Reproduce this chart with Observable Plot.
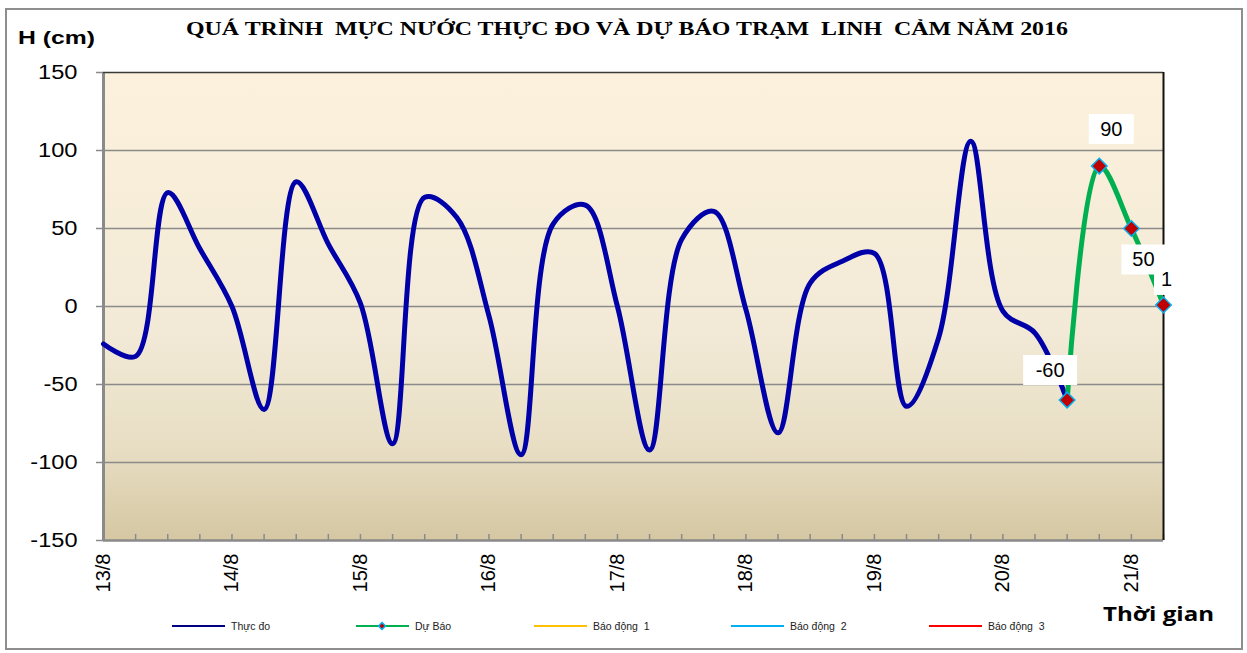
<!DOCTYPE html>
<html>
<head>
<meta charset="utf-8">
<script src="https://cdn.jsdelivr.net/npm/d3@7"></script>
<script src="https://cdn.jsdelivr.net/npm/@observablehq/plot@0.6"></script>
<style>
  html, body { margin: 0; padding: 0; background: #fff; }
  #wrap { position: relative; width: 1247px; height: 653px; overflow: hidden; font-family: "Liberation Sans", Arial, sans-serif; }
  #border { position: absolute; left: 5px; top: 8px; width: 1238px; height: 642px; box-sizing: border-box; border: 2px solid #8e8e8e; }
  #chart { position: absolute; left: 0; top: 0; }
  #overlay { position: absolute; left: 0; top: 0; pointer-events: none; }
  #overlay text { white-space: pre; }
</style>
</head>
<body>
<div id="wrap">
  <div id="border"></div>
  <div id="chart"></div>
  <svg id="overlay" width="1247" height="653" xmlns="http://www.w3.org/2000/svg"></svg>
</div>
<script>
// ---------------- DATA ----------------
const titleText = "QUÁ TRÌNH  MỰC NƯỚC THỰC ĐO VÀ DỰ BÁO TRẠM  LINH  CẢM NĂM 2016";
const yAxisTitle = "H (cm)";
const xAxisTitle = "Thời gian";
const startDate = "2016-08-13T00:00:00Z";
const stepHours = 6; // one reading every 6 hours
// Measured water level (cm), readings 0..30 (13/8 00h .. 20/8 12h)
const measured = [-24, -32, 73, 37, 0, -66, 80, 40, 2, -88, 70, 57, -6, -95, 53, 65, 0, -92, 43, 61, -2, -81, 15, 29, 34, -64, -20, 106, -3, -17, -60];
// Forecast (cm), readings 30..33
const forecastStartIndex = 30;
const forecast = [-60, 90, 50, 1];
const dayLabels = ["13/8", "14/8", "15/8", "16/8", "17/8", "18/8", "19/8", "20/8", "21/8"];
const yTicks = [-150, -100, -50, 0, 50, 100, 150];
const totalSteps = 33;
const legendItems = ["Thực đo", "Dự Báo", "Báo động  1", "Báo động  2", "Báo động  3"];
const legendColors = ["#000080", "#00B050", "#FFC000", "#00B0F0", "#FF0000"];

// ---------------- BUILD ----------------
const t0 = new Date(startDate);
const timeAt = i => new Date(t0.getTime() + i * stepHours * 3600 * 1000);
const tEnd = timeAt(totalSteps);
const measuredData = measured.map((v, i) => ({t: timeAt(i), v}));
const forecastData = forecast.map((v, i) => ({t: timeAt(forecastStartIndex + i), v}));
const dayDates = dayLabels.map((l, i) => ({t: timeAt(i * 24 / stepHours), label: l}));
const minorTicks = d3.range(0, totalSteps + 1).map(timeAt);

function boxSymbol(w, h) {
  return { draw(ctx) { ctx.rect(-w / 2, -h / 2, w, h); } };
}
const labelOffsets = [
  {dx: -17, dy: -30, w: 54},
  {dx: 12, dy: -37, w: 45},
  {dx: 12, dy: 31, w: 44},
  {dx: 3, dy: -25, w: 25}
];
const labelMarks = [];
forecastData.forEach((d, i) => {
  const o = labelOffsets[i];
  labelMarks.push(Plot.dot([d], {x: "t", y: "v", dx: o.dx, dy: o.dy, symbol: boxSymbol(o.w, 30), fill: "white", stroke: null}));
  labelMarks.push(Plot.text([d], {x: "t", y: "v", dx: o.dx, dy: o.dy, text: e => String(e.v), fontSize: 20, fill: "black"}));
});

const chart = Plot.plot({
  width: 1247,
  height: 600,
  marginLeft: 103,
  marginRight: 84,
  marginTop: 72,
  marginBottom: 60,
  style: {fontFamily: "'Liberation Sans', Arial, sans-serif", background: "transparent", overflow: "visible"},
  x: {type: "utc", domain: [t0, tEnd], axis: null},
  y: {domain: [-150, 150]},
  marks: [
    Plot.frame({fill: "url(#bgGrad)", stroke: null}),
    Plot.ruleY(yTicks.filter(v => v > -150 && v < 150), {stroke: "#8a8a8a", strokeWidth: 1.5}),
    Plot.tickX(minorTicks, {x: d => d, stroke: "#8a8a8a", strokeWidth: 1.5, insetTop: 462}),
    Plot.ruleY([-150], {stroke: "#8a8a8a", strokeWidth: 2.5}),
    Plot.ruleX([t0], {stroke: "#8a8a8a", strokeWidth: 3}),
    Plot.ruleY([150], {stroke: "#3a3a3a", strokeWidth: 1.5}),
    Plot.ruleX([tEnd], {stroke: "#111", strokeWidth: 2}),
    Plot.axisY({ticks: yTicks, tickSize: 7, tickPadding: 19, fontSize: 20, stroke: "#8a8a8a", fill: "black", strokeWidth: 1.5, label: null, tickFormat: d => String(d)}),
    Plot.text(dayDates, {x: "t", text: "label", frameAnchor: "bottom", rotate: -90, textAnchor: "end", lineAnchor: "middle", dy: 13, fontSize: 20, fill: "black"}),
    Plot.line(measuredData, {x: "t", y: "v", stroke: "#0000A8", strokeWidth: 5, curve: "catmull-rom"}),
    Plot.line(forecastData, {x: "t", y: "v", stroke: "#00B050", strokeWidth: 5, curve: "catmull-rom"}),
    Plot.dot(forecastData, {x: "t", y: "v", symbol: "diamond2", r: 7, fill: "#C00000", stroke: "#00B0F0", strokeWidth: 1.5}),
    ...labelMarks
  ]
});

const ns = "http://www.w3.org/2000/svg";
const defs = document.createElementNS(ns, "defs");
defs.innerHTML = `<linearGradient id="bgGrad" x1="0" y1="0" x2="0" y2="1">
  <stop offset="0" stop-color="#FCF1DC"/>
  <stop offset="0.55" stop-color="#F2EAD7"/>
  <stop offset="0.8" stop-color="#E8DEC4"/>
  <stop offset="1" stop-color="#D5C7A2"/>
</linearGradient>`;
chart.prepend(defs);
document.getElementById("chart").appendChild(chart);

// widen y tick labels a little, like the reference's stretched Arial
chart.querySelectorAll('g[aria-label="y-axis tick label"] text').forEach(t => {
  const len = t.getComputedTextLength();
  t.setAttribute("textLength", (len * 1.18).toFixed(1));
  t.setAttribute("lengthAdjust", "spacingAndGlyphs");
});

// ---------------- OVERLAY: titles & legend ----------------
const ov = d3.select("#overlay");
ov.append("text").attr("x", 627).attr("y", 35).attr("text-anchor", "middle")
  .attr("font-family", "'Liberation Serif', 'Times New Roman', serif").attr("font-weight", "bold")
  .attr("font-size", 19).attr("textLength", 882).attr("lengthAdjust", "spacingAndGlyphs")
  .text(titleText);
ov.append("text").attr("x", 18).attr("y", 44)
  .attr("font-family", "'Liberation Sans', Arial, sans-serif").attr("font-weight", "bold")
  .attr("font-size", 19).attr("textLength", 77).attr("lengthAdjust", "spacingAndGlyphs")
  .text(yAxisTitle);
ov.append("text").attr("x", 1103).attr("y", 621)
  .attr("font-family", "'Open Sans', 'Liberation Sans', sans-serif").attr("font-weight", "bold")
  .attr("font-size", 19).attr("textLength", 111).attr("lengthAdjust", "spacingAndGlyphs")
  .text(xAxisTitle);

const legendX = [172, 356, 534, 731, 929];
const legendY = 626;
legendItems.forEach((name, i) => {
  const x = legendX[i];
  ov.append("line").attr("x1", x).attr("x2", x + 53).attr("y1", legendY).attr("y2", legendY)
    .attr("stroke", legendColors[i]).attr("stroke-width", 2);
  if (i === 1) {
    ov.append("path").attr("d", d3.symbol(d3.symbolDiamond2, 30)())
      .attr("transform", `translate(${x + 26},${legendY})`)
      .attr("fill", "#C00000").attr("stroke", "#00B0F0").attr("stroke-width", 1.5);
  }
  ov.append("text").attr("x", x + 59).attr("y", legendY + 4)
    .attr("font-family", "'Liberation Sans', Arial, sans-serif").attr("font-size", 10.5)
    .attr("fill", "#222").text(name);
});
</script>
</body>
</html>
